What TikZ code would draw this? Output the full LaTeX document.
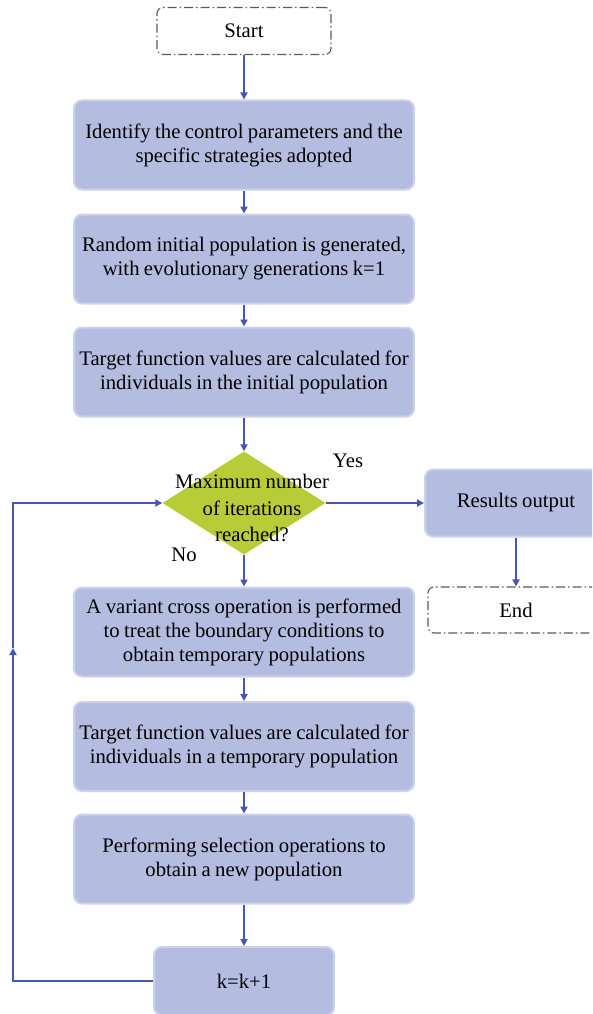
\documentclass[tikz,border=0pt]{standalone}
\usepackage{fontspec}
\setmainfont{Liberation Serif}[WordSpace={0.85,0,0}]
\usetikzlibrary{shapes.geometric,arrows.meta}
\definecolor{boxfill}{RGB}{180,188,224}
\definecolor{boxedge}{RGB}{204,210,238}
\definecolor{flow}{RGB}{70,86,180}
\definecolor{decfill}{RGB}{184,204,56}
\begin{document}
\begin{tikzpicture}[x=1pt,y=-1pt,
  every node/.style={font=\fontsize{20.7}{24}\selectfont, align=center, inner sep=0pt},
  procbox/.style={draw=boxedge, line width=2pt, fill=boxfill, rounded corners=8pt,
    minimum width=340pt, minimum height=89pt},
  termbox/.style={draw=black!65, line width=1.1pt, dash pattern=on 9pt off 3pt on 1.5pt off 3pt,
    rounded corners=6pt, minimum width=174pt, minimum height=47pt},
  decision/.style={diamond, fill=decfill, minimum width=163pt, minimum height=103pt, aspect=1.6},
  flowline/.style={draw=flow, line width=2pt, -{Triangle[length=7pt,width=7pt]}}
]
\clip (0,0) rectangle (592,1014);
\useasboundingbox (0,0) rectangle (592,1014);

\node[termbox] (start) at (244,31) {Start};
\node[procbox] (p1) at (244,145) {Identify the control parameters and the\\specific strategies adopted};
\node[procbox] (p2) at (244,259) {Random initial population is generated,\\with evolutionary generations k=1};
\node[procbox] (p3) at (244,372) {Target function values are calculated for\\individuals in the initial population};
\node[decision] (d) at (244,503) {};
\node[font=\fontsize{20.7}{26.5}\selectfont] (dtext) at (252,508) {Maximum number\\of iterations\\reached?};
\node[procbox, minimum width=182pt, minimum height=67pt] (out) at (516,503) {Results output};
\node[termbox, minimum width=176pt, minimum height=46pt] (end) at (516,610) {End};
\node[procbox] (p4) at (244,632) {A variant cross operation is performed\\to treat the boundary conditions to\\obtain temporary populations};
\node[procbox] (p5) at (244,746.5) {Target function values are calculated for\\individuals in a temporary population};
\node[procbox] (p6) at (244,859) {Performing selection operations to\\obtain a new population};
\node[procbox, minimum width=180pt, minimum height=68pt] (k) at (244,981) {k=k+1};

\node (yes) at (348,461) {Yes};
\node (no) at (184,555) {No};

\coordinate (c1) at (13,981);
\coordinate (c2) at (13,503);
\coordinate (cm) at (13,648);

\draw[flowline] (start) -- (p1);
\draw[flowline] (p1) -- (p2);
\draw[flowline] (p2) -- (p3);
\draw[flowline] (p3) -- (d.north);
\draw[flowline] (d.east) -- (out.west);
\draw[flowline] (out) -- (end);
\draw[flowline] (d.south) -- (p4);
\draw[flowline] (p4) -- (p5);
\draw[flowline] (p5) -- (p6);
\draw[flowline] (p6) -- (k);
\draw[flowline] (k.west) -- (c1) -- (cm);
\draw[flowline] (cm) -- (c2) -- (d.west);
\end{tikzpicture}
\end{document}
